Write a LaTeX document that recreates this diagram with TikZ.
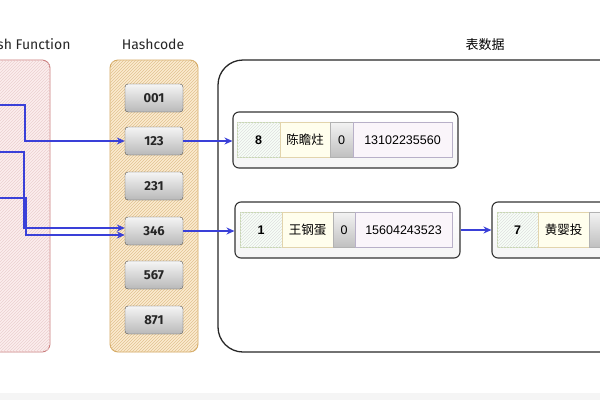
\documentclass[tikz,border=0pt]{standalone}
\usepackage{fontspec}
\setmainfont{Liberation Sans}
\newfontfamily\cjk{Noto Sans CJK SC}
\newfontfamily\hand{Fira Sans}
\usetikzlibrary{patterns,arrows.meta}
\definecolor{hashred}{HTML}{C87878}
\definecolor{hashredfill}{HTML}{FCEEEE}
\definecolor{codeor}{HTML}{D4A860}
\definecolor{codeorfill}{HTML}{FCEBD0}
\definecolor{connblue}{HTML}{3A40D8}
\definecolor{idgreen}{HTML}{C8D8B0}
\definecolor{nameyel}{HTML}{F0D070}
\definecolor{phonevio}{HTML}{B8B0C8}
\tikzset{
  panel/.style={rounded corners=8pt, line width=0.9pt},
  hashbox/.style={draw=gray!65!black, rounded corners=3pt, top color=gray!8, bottom color=gray!55,
    minimum width=58pt, minimum height=28pt, inner sep=0pt,
    font=\hand\bfseries\fontsize{13}{15}\selectfont, text=black!85},
  record/.style={draw=black!80, line width=1.1pt, rounded corners=6pt, top color=white, bottom color=gray!8,
    minimum height=56pt, inner sep=0pt},
  cell/.style={minimum height=35pt, inner sep=0pt, font=\fontsize{12.5}{14}\selectfont},
  cid/.style={cell, draw=idgreen, fill=green!3, postaction={pattern=north east lines, pattern color=gray!25}, font=\bfseries\fontsize{12.5}{14}\selectfont},
  cname/.style={cell, draw=nameyel!70!gray!60, fill=yellow!7, font=\cjk\fontsize{12.5}{14}\selectfont},
  czero/.style={cell, draw=gray!60, top color=gray!10, bottom color=gray!50},
  cphone/.style={cell, draw=phonevio, fill=violet!4},
  conn/.style={draw=connblue, line width=1.2pt, -{Stealth[length=8pt,width=7pt]}},
  title/.style={font=\hand\fontsize{14}{16}\selectfont, text=black!85},
}
\begin{document}
\begin{tikzpicture}[x=1pt,y=-1pt]
\useasboundingbox (0,0) rectangle (600,400);
\clip (0,0) rectangle (600,400);
\fill[gray!8] (0,393) rectangle (600,400);

% titles
\node[title, anchor=east] (tfun) at (74,44) {Hash Function};
\node[title] (tcode) at (153,44) {Hashcode};
\node[font=\cjk\fontsize{13}{15}\selectfont] (ttab) at (485,45) {表数据};

% panels
\path[panel, draw=hashred, fill=hashredfill, postaction={pattern=north east lines, pattern color=hashred!35}] (-38,60) rectangle (50,352);
\path[panel, draw=codeor, fill=codeorfill, postaction={pattern=north east lines, pattern color=codeor!70}] (110,60) rectangle (198,352);
\draw[line width=1.3pt, rounded corners=25pt, draw=black!85] (218,60) rectangle (660,352);

% hashcodes
\node[hashbox] (h001) at (154,98) {001};
\node[hashbox] (h123) at (154,141) {123};
\node[hashbox] (h231) at (154,186) {231};
\node[hashbox] (h346) at (154,231) {346};
\node[hashbox] (h567) at (154,275) {567};
\node[hashbox] (h871) at (154,320) {871};

% record 1
\node[record, minimum width=225pt] (r1) at (345.5,140) {};
\node[cid, minimum width=43pt] (r1a) at (258.5,140) {8};
\node[cname, minimum width=50pt] (r1b) at (305,140) {陈瞻炷};
\node[czero, minimum width=23pt] (r1c) at (341.5,140) {0};
\node[cphone, minimum width=99pt] (r1d) at (402.5,140) {13102235560};

% record 2
\node[record, minimum width=225pt] (r2) at (347.5,230) {};
\node[cid, minimum width=42pt] (r2a) at (261,230) {1};
\node[cname, minimum width=51pt] (r2b) at (307.5,230) {王钢蛋};
\node[czero, minimum width=22pt] (r2c) at (344,230) {0};
\node[cphone, minimum width=97pt] (r2d) at (403.5,230) {15604243523};

% record 3
\node[record, minimum width=228pt] (r3) at (606,230) {};
\node[cid, minimum width=41pt] (r3a) at (517.5,230) {7};
\node[cname, minimum width=51pt] (r3b) at (563.5,230) {黄婴投};
\node[czero, minimum width=23pt] (r3c) at (600.5,230) {};

% connectors
\coordinate (s1) at (0,105);
\coordinate (s2) at (0,152);
\coordinate (s3) at (0,198);
\draw[conn] (s1) -- ++(25,0) |- (h123.west);
\draw[conn] (s2) -- ++(24,0) |- ([yshift=3pt]h346.west);
\draw[conn] (s3) -- ++(26,0) |- ([yshift=-4pt]h346.west);
\draw[conn] (h123.east) -- (h123.east -| r1.west);
\draw[conn] (h346.east) -- (h346.east -| r2.west);
\draw[conn] (r2.east) -- (r3.west);
\end{tikzpicture}
\end{document}
